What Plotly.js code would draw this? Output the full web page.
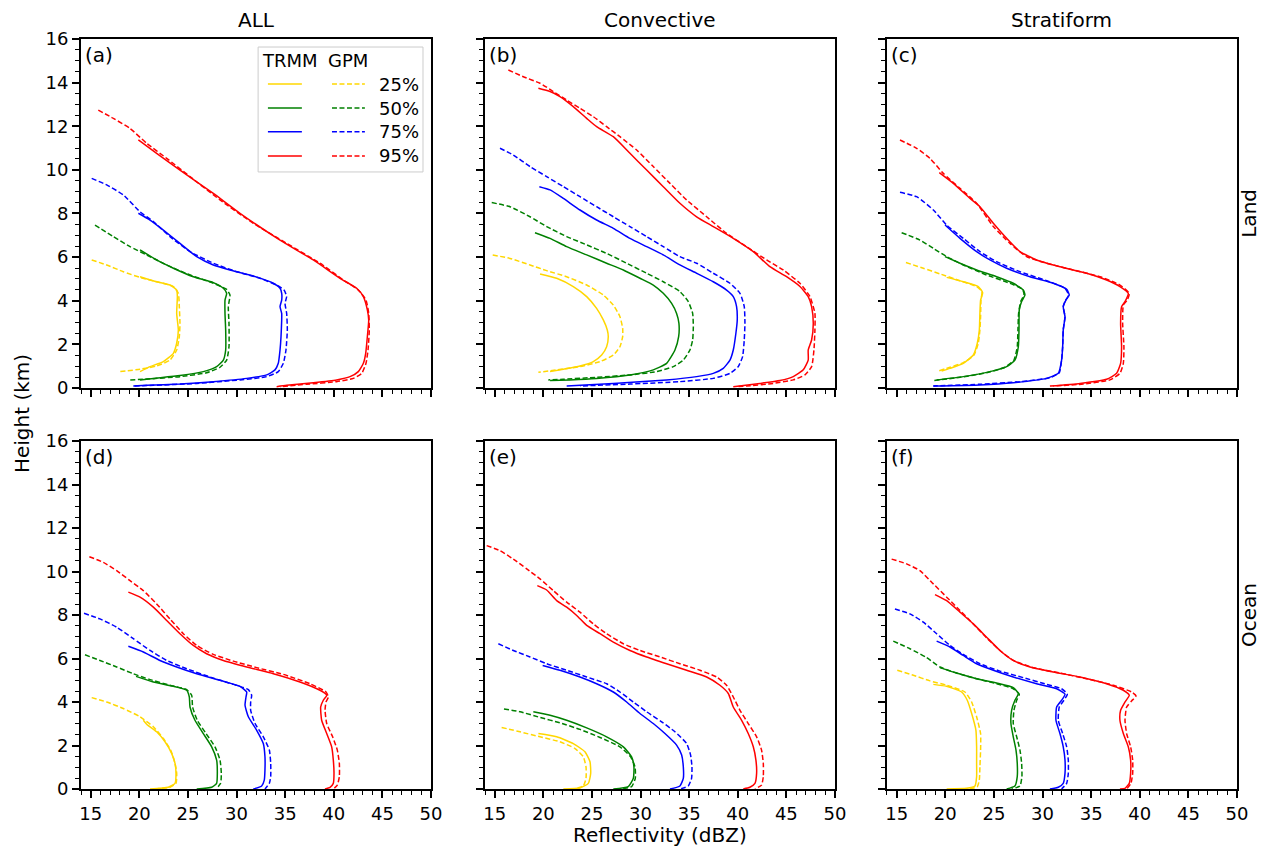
<!DOCTYPE html>
<html>
<head>
<meta charset="utf-8">
<script src="https://cdn.plot.ly/plotly-3.0.1.min.js"></script>
<style>html,body{margin:0;padding:0;background:#fff;}#chart{width:1263px;height:849px;}</style>
</head>
<body>
<div id="chart"></div>
<script>
// ---- categories / labels ----
const PANEL_LETTERS = ['(a)','(b)','(c)','(d)','(e)','(f)'];
const COLUMN_TITLES = ['ALL','Convective','Stratiform'];
const ROW_TITLES = ['Land','Ocean'];
const PERCENTILES = ['25%','50%','75%','95%'];
const SOURCES = ['TRMM','GPM'];
const X_TITLE = 'Reflectivity (dBZ)';
const Y_TITLE = 'Height (km)';

// ---- data: [reflectivity dBZ, height km] ----
// (a) ALL / Land
const A_T25 = [[20.07,5.10],[21.78,4.87],[23.15,4.72],[23.84,4.49],[23.91,4.19],[23.84,3.42],[24.01,2.66],[23.84,2.05],[23.5,1.59],[22.47,1.21],[21.1,0.98],[20.07,0.75]];
const A_G25 = [[15.10,5.87],[16.64,5.64],[18.35,5.33],[20.07,5.07],[22.13,4.83],[23.50,4.65],[24.01,4.34],[24.11,3.73],[24.18,2.96],[24.11,2.35],[23.84,1.74],[23.15,1.28],[21.78,1.01],[20.07,0.86],[18.01,0.75]];
const A_T50 = [[20.07,6.33],[21.78,5.87],[23.50,5.49],[25.55,5.10],[27.61,4.83],[28.64,4.57],[28.98,4.34],[28.81,4.03],[28.81,3.42],[28.88,2.66],[28.88,1.74],[28.64,1.28],[27.95,0.98],[26.58,0.75],[24.18,0.57],[21.44,0.44],[20.07,0.37]];
const A_G50 = [[15.44,7.47],[17.33,6.94],[19.04,6.48],[20.75,6.10],[22.81,5.64],[25.21,5.18],[27.61,4.80],[28.98,4.52],[29.32,4.26],[29.15,3.73],[29.22,2.96],[29.22,1.89],[28.98,1.28],[28.30,0.95],[26.92,0.70],[24.18,0.52],[20.75,0.41],[19.04,0.37]];
const A_T75 = [[19.90,8.01],[21.10,7.70],[22.47,7.24],[24.18,6.63],[25.90,6.02],[27.61,5.64],[29.32,5.41],[31.72,5.13],[33.78,4.80],[34.47,4.57],[34.64,4.34],[34.64,4.03],[34.47,3.73],[34.64,3.42],[34.64,3.12],[34.57,2.35],[34.47,1.74],[34.29,1.13],[33.95,0.83],[33.10,0.60],[31.04,0.44],[27.61,0.29],[24.18,0.18],[20.75,0.12],[19.38,0.09]];
const A_G75 = [[15.10,9.61],[16.64,9.31],[18.35,8.85],[20.07,8.08],[21.44,7.63],[23.15,6.94],[25.21,6.25],[27.61,5.72],[30.01,5.33],[32.41,5.03],[34.12,4.72],[34.88,4.49],[35.15,4.19],[34.98,3.88],[35.15,3.42],[35.22,2.66],[35.08,1.74],[34.81,1.13],[34.29,0.75],[33.10,0.52],[30.35,0.37],[25.90,0.21],[21.44,0.12],[19.38,0.09]];
const A_T95 = [[19.90,11.37],[21.78,10.76],[24.18,9.99],[27.61,8.92],[30.35,8.01],[34.47,6.78],[37.89,5.87],[40.64,5.03],[42.35,4.57],[43.04,4.19],[43.45,3.58],[43.59,3.12],[43.45,2.35],[43.28,1.59],[43.04,1.13],[42.52,0.75],[41.67,0.52],[40.29,0.37],[37.89,0.24],[35.15,0.12],[34.12,0.06]];
const A_G95 = [[15.78,12.74],[17.33,12.36],[19.04,11.90],[20.75,11.22],[22.81,10.53],[25.21,9.69],[28.30,8.62],[31.72,7.55],[35.15,6.63],[38.58,5.72],[40.98,4.95],[42.52,4.49],[43.31,4.03],[43.59,3.42],[43.65,2.66],[43.52,1.74],[43.31,1.13],[42.87,0.67],[42.01,0.44],[40.29,0.29],[37.21,0.17],[34.47,0.06]];
// (b) Convective / Land
const B_T25 = [[19.66,5.23],[21.37,5.03],[23.08,4.65],[24.46,4.19],[25.48,3.65],[26.17,3.12],[26.58,2.66],[26.68,2.35],[26.51,1.89],[26.00,1.51],[25.14,1.21],[23.77,1.01],[22.06,0.86],[20.69,0.75]];
const B_G25 = [[14.79,6.10],[16.57,5.94],[18.63,5.64],[20.34,5.38],[22.40,5.10],[24.46,4.72],[26.17,4.26],[27.20,3.80],[27.88,3.27],[28.16,2.74],[28.16,2.35],[27.88,1.89],[27.20,1.51],[25.83,1.21],[23.77,0.98],[21.37,0.83],[19.49,0.72]];
const B_T50 = [[19.14,7.12],[20.69,6.86],[22.40,6.48],[24.46,6.10],[26.51,5.72],[28.23,5.41],[29.94,5.03],[31.31,4.72],[32.34,4.34],[33.20,3.88],[33.71,3.42],[33.95,2.96],[33.92,2.35],[33.54,1.74],[32.68,1.13],[31.31,0.83],[28.91,0.60],[25.48,0.44],[22.74,0.37],[20.69,0.34]];
const B_G50 = [[14.69,8.50],[16.57,8.31],[18.63,7.85],[20.34,7.40],[22.40,6.94],[24.46,6.56],[26.51,6.17],[28.57,5.72],[30.63,5.26],[32.34,4.87],[34.05,4.42],[34.91,3.96],[35.36,3.42],[35.43,2.81],[35.36,2.20],[35.08,1.74],[34.40,1.28],[33.37,0.98],[31.66,0.75],[28.91,0.60],[25.48,0.49],[22.06,0.40],[20.51,0.37]];
const B_T75 = [[19.59,9.23],[20.69,9.08],[22.06,8.69],[23.77,8.16],[25.48,7.70],[27.20,7.32],[28.91,6.86],[30.63,6.48],[32.34,6.10],[34.05,5.64],[35.77,5.26],[37.48,4.87],[38.85,4.49],[39.54,4.19],[39.88,3.73],[39.95,3.12],[39.81,2.51],[39.54,1.74],[39.20,1.28],[38.51,0.90],[37.48,0.67],[35.77,0.52],[32.68,0.37],[27.20,0.21],[22.40,0.09]];
const B_G75 = [[15.54,10.99],[16.91,10.68],[18.63,10.15],[20.34,9.69],[22.06,9.23],[23.77,8.77],[25.48,8.31],[27.20,7.85],[28.91,7.40],[30.63,6.94],[32.34,6.48],[34.05,6.02],[35.77,5.72],[37.48,5.26],[39.20,4.80],[40.23,4.34],[40.67,3.73],[40.74,2.96],[40.67,2.20],[40.50,1.44],[40.05,0.98],[39.20,0.67],[37.48,0.44],[34.05,0.29],[28.91,0.18],[23.77,0.09]];
const B_T95 = [[19.49,13.74],[20.69,13.59],[21.71,13.36],[23.08,12.90],[24.46,12.36],[25.48,11.98],[27.20,11.52],[28.91,10.76],[30.63,9.99],[32.34,9.23],[34.05,8.47],[35.77,7.85],[37.48,7.40],[39.54,6.86],[41.60,6.25],[43.31,5.56],[45.02,5.10],[46.40,4.65],[47.25,4.19],[47.60,3.73],[47.77,2.96],[47.60,2.20],[47.25,1.74],[47.25,1.28],[46.74,0.83],[45.71,0.52],[44.34,0.34],[42.28,0.21],[39.54,0.06]];
const B_G95 = [[16.40,14.58],[17.94,14.27],[19.66,13.97],[21.03,13.59],[22.40,13.20],[23.77,12.82],[25.14,12.44],[26.51,11.98],[27.88,11.52],[29.60,10.91],[31.31,10.15],[33.03,9.38],[34.74,8.62],[36.80,7.85],[38.85,7.09],[40.91,6.48],[42.97,5.87],[44.68,5.41],[46.40,4.80],[47.43,4.19],[47.94,3.42],[47.94,2.66],[47.84,1.74],[47.60,0.98],[46.91,0.60],[45.71,0.37],[43.65,0.21],[40.91,0.09],[39.88,0.06]];
// (c) Stratiform / Land
const C_T25 = [[20.14,5.07],[21.85,4.87],[23.39,4.65],[23.84,4.37],[23.63,4.03],[23.56,3.42],[23.50,2.66],[23.29,2.05],[22.88,1.51],[21.85,1.13],[20.48,0.90],[19.62,0.78]];
const C_G25 = [[15.95,5.75],[17.74,5.49],[19.45,5.23],[21.51,4.92],[23.22,4.65],[23.77,4.42],[23.67,4.03],[23.63,3.27],[23.56,2.66],[23.39,2.05],[22.95,1.51],[21.85,1.16],[20.48,0.95],[19.38,0.79]];
const C_T50 = [[19.97,6.02],[21.51,5.72],[23.22,5.41],[25.28,5.10],[26.99,4.80],[28.02,4.49],[28.19,4.26],[27.85,3.96],[27.61,3.58],[27.58,2.66],[27.51,1.89],[27.16,1.28],[26.31,0.98],[24.59,0.75],[21.85,0.52],[19.11,0.37]];
const C_G50 = [[15.51,7.12],[17.39,6.78],[18.77,6.40],[20.14,6.02],[21.85,5.64],[24.25,5.18],[26.65,4.80],[27.95,4.52],[28.09,4.26],[27.75,3.96],[27.54,3.42],[27.47,2.66],[27.40,1.89],[27.06,1.28],[26.14,0.95],[24.25,0.70],[21.51,0.49],[18.77,0.34]];
const C_T75 = [[19.97,7.47],[21.51,6.86],[23.22,6.25],[24.59,5.87],[26.31,5.49],[28.71,5.10],[31.11,4.80],[32.48,4.52],[32.75,4.26],[32.41,4.03],[32.13,3.73],[32.31,3.27],[32.13,2.66],[32.07,1.89],[31.96,1.28],[31.62,0.67],[30.42,0.44],[26.99,0.24],[23.56,0.14],[18.77,0.09]];
const C_G75 = [[15.34,8.97],[17.05,8.77],[18.77,8.16],[20.14,7.47],[21.85,6.86],[23.56,6.25],[25.28,5.79],[27.68,5.33],[30.42,4.92],[32.31,4.57],[32.68,4.26],[32.34,4.00],[32.13,3.73],[32.31,3.27],[32.13,2.66],[32.07,1.89],[31.96,1.28],[31.72,0.70],[30.76,0.47],[27.68,0.29],[23.56,0.17],[18.77,0.09]];
const C_T95 = [[19.38,9.87],[20.82,9.38],[22.54,8.69],[23.56,8.31],[24.94,7.55],[26.31,6.86],[27.68,6.25],[29.39,5.87],[31.79,5.56],[34.53,5.26],[36.59,4.95],[37.96,4.65],[38.82,4.34],[38.48,3.96],[38.13,3.73],[38.03,2.96],[38.13,1.89],[38.03,1.13],[37.62,0.67],[36.59,0.40],[33.85,0.21],[30.76,0.09]];
const C_G95 = [[15.34,11.37],[17.05,10.99],[18.42,10.53],[19.79,9.84],[21.51,9.15],[23.22,8.47],[24.94,7.40],[26.65,6.63],[28.36,6.02],[30.42,5.72],[33.16,5.41],[35.91,5.10],[37.96,4.72],[38.92,4.34],[38.72,4.03],[38.31,3.80],[38.24,2.96],[38.37,1.89],[38.31,1.13],[37.96,0.67],[36.93,0.37],[34.19,0.18],[31.11,0.09]];
// (d) ALL / Ocean
const D_T25 = [[20.41,3.16],[20.75,2.98],[21.78,2.63],[22.64,2.17],[23.32,1.64],[23.67,1.18],[23.77,0.72],[23.67,0.26],[22.98,0.08],[21.10,0.0]];
const D_G25 = [[15.10,4.20],[16.64,4.00],[18.35,3.70],[20.07,3.32],[21.44,2.86],[22.47,2.32],[23.22,1.79],[23.67,1.18],[23.84,0.72],[23.77,0.26],[23.15,0.08],[21.44,0.0]];
const D_T50 = [[19.66,5.18],[21.44,4.92],[23.50,4.72],[24.87,4.54],[25.14,4.23],[25.21,3.77],[25.72,3.16],[26.58,2.55],[27.44,1.94],[27.95,1.33],[28.02,0.72],[27.95,0.26],[27.44,0.08],[25.90,0.0]];
const D_G50 = [[14.41,6.17],[15.95,5.91],[17.67,5.61],[19.38,5.30],[21.10,5.03],[23.15,4.77],[24.87,4.57],[25.38,4.31],[25.48,3.77],[25.96,3.16],[26.86,2.55],[27.78,1.94],[28.30,1.33],[28.43,0.72],[28.36,0.26],[27.95,0.03]];
const D_T75 = [[18.87,6.56],[20.41,6.30],[22.12,5.91],[23.84,5.61],[25.90,5.30],[28.30,5.00],[30.35,4.72],[31.04,4.46],[30.97,4.23],[30.87,3.85],[31.21,3.32],[32.07,2.70],[32.75,2.09],[32.92,1.48],[32.92,0.87],[32.85,0.41],[32.58,0.14],[31.72,0.0]];
const D_G75 = [[14.31,8.08],[15.95,7.82],[17.67,7.44],[19.38,6.91],[21.10,6.37],[22.81,5.91],[24.87,5.53],[27.27,5.15],[29.67,4.81],[31.21,4.57],[31.55,4.31],[31.45,4.00],[31.45,3.62],[31.90,3.01],[32.75,2.40],[33.37,1.79],[33.51,1.18],[33.51,0.57],[33.37,0.26],[32.92,0.0]];
const D_T95 = [[18.87,9.05],[20.07,8.82],[21.44,8.36],[22.81,7.75],[24.18,7.14],[25.55,6.60],[26.92,6.22],[28.64,5.91],[31.04,5.61],[33.78,5.30],[36.52,4.92],[38.58,4.54],[39.27,4.31],[38.92,4.08],[38.65,3.77],[38.75,3.16],[39.27,2.55],[39.78,1.94],[39.95,1.33],[40.02,0.72],[39.95,0.26],[39.61,0.08],[39.09,0.0]];
const D_G95 = [[14.86,10.68],[16.30,10.42],[17.67,10.04],[19.04,9.58],[20.41,9.12],[21.78,8.51],[23.15,7.82],[24.52,7.14],[25.90,6.60],[27.61,6.19],[29.67,5.88],[32.07,5.58],[34.81,5.27],[37.55,4.84],[39.20,4.46],[39.44,4.23],[39.20,4.00],[39.10,3.62],[39.27,3.01],[39.88,2.40],[40.36,1.79],[40.57,1.18],[40.57,0.57],[40.36,0.18],[39.95,0.0]];
// (e) Convective / Ocean
const E_T25 = [[19.49,2.55],[21.37,2.40],[23.08,2.09],[24.28,1.71],[24.80,1.25],[24.87,0.72],[24.63,0.26],[23.77,0.05],[22.06,0.0]];
const E_G25 = [[15.71,2.83],[17.60,2.63],[19.66,2.40],[21.71,2.17],[23.26,1.86],[24.11,1.48],[24.39,1.02],[24.39,0.49],[24.11,0.14],[23.08,0.0]];
const E_T50 = [[18.97,3.55],[20.69,3.39],[22.40,3.16],[24.46,2.81],[26.51,2.40],[28.23,1.94],[29.08,1.48],[29.32,1.02],[29.26,0.49],[28.74,0.11],[27.20,0.0]];
const E_G50 = [[15.95,3.68],[17.60,3.55],[19.66,3.29],[21.71,3.04],[23.77,2.74],[25.83,2.37],[27.88,1.94],[28.98,1.48],[29.43,1.02],[29.46,0.49],[29.08,0.11],[27.88,0.0]];
const E_T75 = [[19.93,5.68],[21.71,5.46],[23.77,5.15],[25.48,4.84],[27.20,4.46],[28.57,4.00],[29.94,3.47],[31.31,3.01],[32.51,2.55],[33.71,2.02],[34.23,1.56],[34.40,1.02],[34.40,0.49],[34.05,0.14],[33.03,0.0]];
const E_G75 = [[15.37,6.68],[16.91,6.37],[18.63,6.07],[20.34,5.76],[22.40,5.46],[24.46,5.15],[26.51,4.84],[27.88,4.46],[29.26,4.00],[30.63,3.55],[32.17,3.09],[33.54,2.63],[34.74,2.09],[35.15,1.56],[35.29,1.02],[35.25,0.49],[34.91,0.14],[34.05,0.0]];
const E_T95 = [[19.38,9.35],[20.34,9.15],[21.37,8.66],[22.40,8.36],[23.43,7.98],[24.46,7.52],[25.83,7.14],[27.20,6.75],[28.91,6.37],[30.63,6.07],[32.68,5.76],[34.74,5.46],[36.80,5.15],[38.17,4.77],[39.03,4.39],[39.54,3.77],[40.40,3.16],[41.08,2.55],[41.60,1.94],[41.87,1.33],[41.94,0.72],[41.77,0.26],[41.25,0.08],[40.57,0.0]];
const E_G95 = [[14.17,11.19],[15.54,10.96],[16.91,10.57],[18.29,10.12],[19.66,9.66],[21.03,9.12],[22.40,8.59],[23.77,8.13],[25.14,7.59],[26.51,7.14],[28.23,6.68],[29.94,6.37],[32.00,6.07],[34.05,5.76],[36.11,5.46],[37.83,5.15],[38.85,4.77],[39.54,4.23],[40.23,3.62],[41.08,3.01],[41.94,2.40],[42.45,1.79],[42.63,1.18],[42.63,0.57],[42.45,0.18],[41.77,0.0]];
// (f) Stratiform / Ocean
const F_T25 = [[18.77,4.81],[20.14,4.72],[21.68,4.46],[22.26,4.08],[22.71,3.47],[23.15,2.70],[23.22,1.94],[23.22,1.18],[23.22,0.57],[23.05,0.14],[22.19,0.03],[20.14,0.0]];
const F_G25 = [[15.06,5.46],[16.71,5.23],[18.42,4.97],[20.14,4.77],[22.02,4.46],[22.71,4.00],[23.22,3.32],[23.63,2.55],[23.63,1.79],[23.56,1.02],[23.50,0.41],[23.29,0.11],[22.54,0.0]];
const F_T50 = [[19.45,5.58],[21.16,5.33],[23.22,5.07],[25.28,4.87],[26.99,4.66],[27.51,4.39],[27.16,4.08],[26.82,3.62],[26.75,3.01],[26.99,2.40],[27.27,1.79],[27.40,1.18],[27.40,0.57],[27.16,0.14],[26.31,0.0]];
const F_G50 = [[14.65,6.80],[16.37,6.45],[18.08,6.04],[19.45,5.61],[21.16,5.33],[23.22,5.07],[25.28,4.84],[26.99,4.61],[27.61,4.36],[27.34,4.08],[27.06,3.62],[26.99,3.01],[27.34,2.40],[27.68,1.79],[27.85,1.18],[27.88,0.57],[27.68,0.14],[26.82,0.0]];
const F_T75 = [[19.11,6.80],[20.48,6.53],[21.85,6.14],[23.22,5.76],[24.94,5.46],[26.99,5.15],[29.39,4.84],[31.45,4.61],[32.31,4.36],[31.96,4.08],[31.45,3.77],[31.38,3.16],[31.79,2.55],[32.13,1.94],[32.31,1.33],[32.31,0.72],[32.13,0.26],[31.62,0.08],[30.76,0.0]];
const F_G75 = [[14.82,8.28],[16.37,8.05],[17.74,7.67],[19.11,7.14],[20.48,6.60],[21.85,6.19],[23.56,5.76],[25.62,5.42],[28.02,5.12],[30.42,4.81],[31.96,4.61],[32.55,4.36],[32.20,4.08],[31.72,3.77],[31.62,3.16],[32.07,2.55],[32.48,1.94],[32.65,1.33],[32.65,0.72],[32.48,0.26],[31.96,0.0]];
const F_T95 = [[18.94,8.94],[20.14,8.66],[21.51,8.13],[22.88,7.59],[24.25,6.98],[25.62,6.37],[26.99,5.91],[28.71,5.61],[31.11,5.38],[33.85,5.15],[36.59,4.84],[38.31,4.54],[38.92,4.31],[38.48,4.00],[38.03,3.62],[37.96,3.16],[38.31,2.55],[38.82,1.94],[39.06,1.33],[39.06,0.72],[38.92,0.26],[38.48,0.03],[37.96,0.0]];
const F_G95 = [[14.48,10.57],[16.02,10.35],[17.39,10.04],[18.77,9.43],[20.14,8.82],[21.51,8.21],[22.88,7.59],[24.25,6.95],[25.62,6.37],[26.99,5.91],[29.05,5.58],[31.79,5.33],[34.53,5.07],[37.28,4.77],[39.16,4.46],[39.61,4.28],[39.16,4.05],[38.65,3.77],[38.48,3.16],[38.65,2.55],[39.06,1.94],[39.27,1.33],[39.27,0.72],[39.09,0.26],[38.65,0.0]];

const TRMM_CURVES = [
  [A_T25,A_T50,A_T75,A_T95],[B_T25,B_T50,B_T75,B_T95],[C_T25,C_T50,C_T75,C_T95],
  [D_T25,D_T50,D_T75,D_T95],[E_T25,E_T50,E_T75,E_T95],[F_T25,F_T50,F_T75,F_T95]];
const GPM_CURVES = [
  [A_G25,A_G50,A_G75,A_G95],[B_G25,B_G50,B_G75,B_G95],[C_G25,C_G50,C_G75,C_G95],
  [D_G25,D_G50,D_G75,D_G95],[E_G25,E_G50,E_G75,E_G95],[F_G25,F_G50,F_G75,F_G95]];

// ---- styles ----
const COLORS = ['#FFD700','#008000','#0000FF','#FF0000'];
const FONT = 'DejaVu Sans, Arial, sans-serif';
const DASH = '5px,2.5px';
const LW = 1.5;
const TICK_SIZE = 18, TITLE_SIZE = 20, LEG_SIZE = 18;

const traces = [];
for (let p = 0; p < 6; p++) {
  const sfx = p === 0 ? '' : String(p + 1);
  for (let j = 0; j < 4; j++) {
    [[TRMM_CURVES, 'solid', 'TRMM'], [GPM_CURVES, DASH, 'GPM']].forEach(([set, dash, src]) => {
      const c = set[p][j];
      traces.push({
        type: 'scatter', mode: 'lines',
        x: c.map(d => d[0]), y: c.map(d => d[1]),
        xaxis: 'x' + sfx, yaxis: 'y' + sfx,
        name: src + ' ' + PERCENTILES[j], showlegend: false,
        line: {color: COLORS[j], width: LW, dash: dash, shape: 'spline', smoothing: 0.5},
        hoverinfo: 'x+y+name'
      });
    });
  }
}

const XD = [[0, 0.3028], [0.3495, 0.6522], [0.6972, 1]];
const YD = [[0.5347, 1], [0, 0.464]];

const layout = {
  width: 1263, height: 849,
  margin: {l: 81, r: 26, t: 39, b: 60},
  paper_bgcolor: '#fff', plot_bgcolor: '#fff',
  font: {family: FONT, size: TICK_SIZE, color: '#000'},
  showlegend: false,
  annotations: [], shapes: []
};

for (let p = 0; p < 6; p++) {
  const sfx = p === 0 ? '' : String(p + 1);
  const col = p % 3, row = Math.floor(p / 3);
  layout['xaxis' + sfx] = {
    domain: XD[col], anchor: 'y' + sfx, range: [14, 50],
    tick0: 0, dtick: 5, ticks: 'outside', ticklen: 7, tickwidth: 1.5, tickcolor: '#000',
    showticklabels: row === 1, tickfont: {family: FONT, size: TICK_SIZE, color: '#000'},
    ticklabelstandoff: 0,
    showline: true, linewidth: 2, linecolor: '#000', mirror: true,
    showgrid: false, zeroline: false,
    minor: {dtick: 1, tick0: 0, ticks: 'outside', ticklen: 4, tickwidth: 1, tickcolor: '#000', showgrid: false}
  };
  layout['yaxis' + sfx] = {
    domain: YD[row], anchor: 'x' + sfx, range: [0, 16],
    tick0: 0, dtick: 2, ticks: 'outside', ticklen: 7, tickwidth: 1.5, tickcolor: '#000',
    showticklabels: col === 0, tickfont: {family: FONT, size: TICK_SIZE, color: '#000'},
    showline: true, linewidth: 2, linecolor: '#000', mirror: true,
    showgrid: false, zeroline: false,
    minor: {dtick: 0.5, tick0: 0, ticks: 'outside', ticklen: 4, tickwidth: 1, tickcolor: '#000', showgrid: false}
  };
  layout.annotations.push({
    text: PANEL_LETTERS[p], xref: 'x' + sfx + ' domain', yref: 'y' + sfx + ' domain',
    x: 0.006, y: 0.955, xanchor: 'left', yanchor: 'middle', showarrow: false,
    font: {family: FONT, size: TITLE_SIZE, color: '#000'}
  });
}

// column titles
COLUMN_TITLES.forEach((t, c) => {
  const sfx = c === 0 ? '' : String(c + 1);
  layout.annotations.push({
    text: t, xref: 'x' + sfx + ' domain', yref: 'paper', x: 0.5, y: 1.0253,
    xanchor: 'center', yanchor: 'middle', showarrow: false,
    font: {family: FONT, size: TITLE_SIZE, color: '#000'}
  });
});
// row titles
ROW_TITLES.forEach((t, r) => {
  layout.annotations.push({
    text: t, xref: 'paper', yref: 'paper', x: 1.0104, y: r === 0 ? 0.767 : 0.232,
    xanchor: 'center', yanchor: 'middle', textangle: -90, showarrow: false,
    font: {family: FONT, size: TITLE_SIZE, color: '#000'}
  });
});
// axis titles
layout.annotations.push({
  text: Y_TITLE, xref: 'paper', yref: 'paper', x: -0.051, y: 0.5,
  xanchor: 'center', yanchor: 'middle', textangle: -90, showarrow: false,
  font: {family: FONT, size: TITLE_SIZE, color: '#000'}
});
layout.annotations.push({
  text: X_TITLE, xref: 'paper', yref: 'paper', x: 0.5009, y: -0.0615,
  xanchor: 'center', yanchor: 'middle', showarrow: false, borderpad: 0,
  font: {family: FONT, size: TITLE_SIZE, color: '#000'}
});

// custom two-column legend inside panel (a)
const LX = 'x domain', LY = 'y domain';
layout.shapes.push({
  type: 'rect', xref: LX, yref: LY, x0: 0.506, x1: 0.977, y0: 0.619, y1: 0.977,
  line: {color: '#cccccc', width: 1}, fillcolor: 'rgba(255,255,255,0.8)', layer: 'above'
});
layout.annotations.push({text: SOURCES[0], xref: LX, yref: LY, x: 0.597, y: 0.937, xanchor: 'center', yanchor: 'middle', showarrow: false, font: {family: FONT, size: LEG_SIZE, color: '#000'}});
layout.annotations.push({text: SOURCES[1], xref: LX, yref: LY, x: 0.762, y: 0.937, xanchor: 'center', yanchor: 'middle', showarrow: false, font: {family: FONT, size: LEG_SIZE, color: '#000'}});
const ROWY = [0.871, 0.802, 0.734, 0.665];
PERCENTILES.forEach((lab, j) => {
  layout.shapes.push({type: 'line', xref: LX, yref: LY, x0: 0.534, x1: 0.631, y0: ROWY[j], y1: ROWY[j], line: {color: COLORS[j], width: LW}, layer: 'above'});
  layout.shapes.push({type: 'line', xref: LX, yref: LY, x0: 0.717, x1: 0.811, y0: ROWY[j], y1: ROWY[j], line: {color: COLORS[j], width: LW, dash: DASH}, layer: 'above'});
  layout.annotations.push({text: lab, xref: LX, yref: LY, x: 0.845, y: ROWY[j], xanchor: 'left', yanchor: 'middle', showarrow: false, font: {family: FONT, size: LEG_SIZE, color: '#000'}});
});

Plotly.newPlot('chart', traces, layout, {displayModeBar: false});
</script>
</body>
</html>
